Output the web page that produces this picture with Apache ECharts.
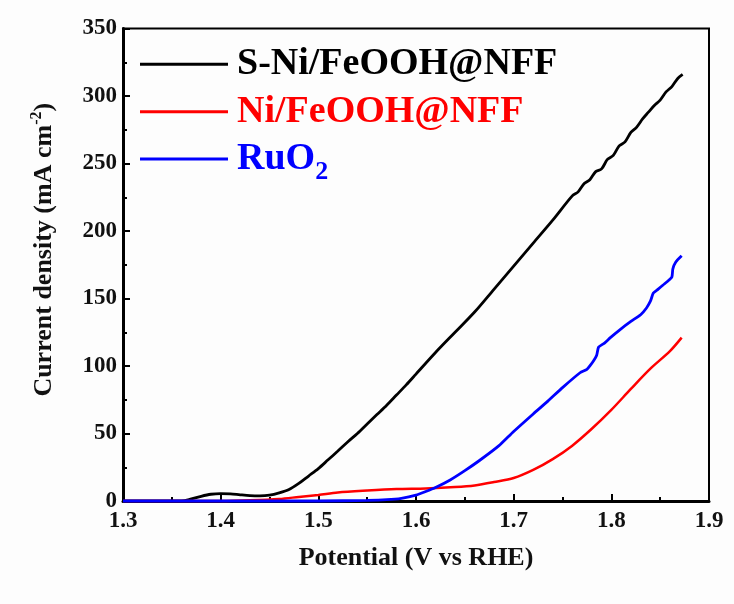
<!DOCTYPE html>
<html>
<head>
<meta charset="utf-8">
<script src="https://cdn.jsdelivr.net/npm/echarts@6/dist/echarts.min.js"></script>
<style>html,body{margin:0;padding:0;background:#fdfdfd;}#c{width:734px;height:604px;}</style>
</head>
<body>
<div id="c"></div>
<script>
// S-Ni/FeOOH@NFF
var vBlack = [1.30,1.34,1.36,1.37,1.38,1.39,1.40,1.41,1.42,1.43,1.44,1.45,1.46,1.47,1.48,1.49,1.50,1.51,1.52,1.53,1.54,1.55,1.56,1.57,1.58,1.59,1.60,1.62,1.64,1.66,1.68,1.70,1.72,1.74,1.760,1.766,1.772,1.778,1.784,1.790,1.796,1.802,1.808,1.814,1.820,1.826,1.832,1.838,1.844,1.850,1.856,1.862,1.868,1.873];
var jBlack = [0,0,0,1.5,3.5,5,5.5,5.3,4.6,4.0,3.8,4.3,6,8.5,13,18.5,24,30.5,37,43.7,50,57,64,71,78.5,86,94,110,125,140,157,174,191,208,226,229,235,238,244,246,253,256,263,266,273,277,283,288,293,297,303,307,313,316];
// Ni/FeOOH@NFF
var vRed = [1.30,1.40,1.43,1.46,1.48,1.50,1.52,1.55,1.58,1.61,1.64,1.66,1.68,1.70,1.72,1.74,1.76,1.78,1.80,1.82,1.84,1.86,1.872];
var jRed = [0,0,0.5,1.5,3,4.5,6.3,7.7,8.8,9.3,10.3,11.5,14,17,23,31,41,53.5,67.5,83,98,111,121];
// RuO2
var vBlue = [1.30,1.50,1.55,1.57,1.585,1.60,1.61,1.62,1.635,1.65,1.665,1.685,1.70,1.72,1.735,1.75,1.768,1.775,1.779,1.782,1.785,1.787,1.793,1.799,1.809,1.82,1.83,1.836,1.840,1.843,1.848,1.853,1.858,1.862,1.863,1.866,1.872];
var jBlue = [0,0,0.5,1,2,4.3,7,10,15.6,22.5,30,41,51.5,64.5,74,84,95,97.5,101,104,108,114,117,121,127,133,138,143,148,154,157,160,163,166,172,177,181.6];

var names = ['S-Ni/FeOOH@NFF','Ni/FeOOH@NFF','RuO2'];
var colors = ['#000000','#ff0000','#0000ff'];

function pairs(v, j){ return v.map(function(x,i){ return [x, j[i]]; }); }

var font = 'Liberation Serif';
var subStyle = {fontFamily:font, fontWeight:'bold', fontSize:26, lineHeight:6, padding:[26,0,0,0]};
function sub(color){ return Object.assign({color: color}, subStyle); }
var chart = echarts.init(document.getElementById('c'), null, {renderer:'canvas'});
chart.setOption({
  backgroundColor: '#fdfdfd',
  animation: false,
  grid: {left:123, right:25, top:28.5, bottom:103, show:true, borderColor:'#000', borderWidth:2, backgroundColor:'transparent', containLabel:false, outerBoundsMode:'none'},
  legend: {
    orient:'vertical', left:140, top:38.3, padding:0, itemGap:-4.6, itemWidth:88, itemHeight:3, icon:'rect',
    data: names,
    formatter: function(n){
      if (n === names[0]) return '{k|' + n + '}{hs| }';
      if (n === names[1]) return '{r|' + n + '}{hs| }';
      return '{b|RuO}{bs|2}';
    },
    textStyle: {
      fontFamily:font, fontWeight:'bold', fontSize:38, padding:[0,0,0,4],
      rich: {
        k:{color:colors[0], fontFamily:font, fontWeight:'bold', fontSize:38, lineHeight:33.5},
        r:{color:colors[1], fontFamily:font, fontWeight:'bold', fontSize:38, lineHeight:33.5},
        b:{color:colors[2], fontFamily:font, fontWeight:'bold', fontSize:38, lineHeight:33.5},
        bs:sub(colors[2]),
        hs:sub('rgba(0,0,0,0)')
      }
    }
  },
  xAxis: {
    type:'value', min:1.3, max:1.9, interval:0.1,
    name:'Potential (V vs RHE)', nameLocation:'middle', nameGap:44,
    nameTextStyle:{fontFamily:font, fontWeight:'bold', fontSize:26, color:'#111'},
    axisLine:{show:true, onZero:false, lineStyle:{color:'#000', width:3}},
    axisTick:{show:true, inside:true, length:7, lineStyle:{color:'#000', width:2}},
    minorTick:{show:true, splitNumber:2, length:4, lineStyle:{color:'#000', width:2}},
    axisLabel:{fontFamily:font, fontWeight:'bold', fontSize:23, color:'#111', margin:9,
      formatter:function(v){ return v.toFixed(1); }},
    splitLine:{show:false}
  },
  yAxis: {
    type:'value', min:0, max:350, interval:50,
    name:'{t|Current density (mA cm}{sup|-2}{t|)}', nameLocation:'middle', nameGap:64,
    nameTextStyle:{fontFamily:font, fontWeight:'bold', fontSize:26, color:'#111', padding:[0,0,0,30],
      rich:{
        t:{fontFamily:font, fontWeight:'bold', fontSize:26, color:'#111', lineHeight:30},
        sup:{fontFamily:font, fontWeight:'bold', fontSize:16, color:'#111', lineHeight:30, verticalAlign:'top'}
      }},
    axisLine:{show:true, lineStyle:{color:'#000', width:3}},
    axisTick:{show:true, inside:true, length:7, lineStyle:{color:'#000', width:2}},
    minorTick:{show:true, splitNumber:2, length:4, lineStyle:{color:'#000', width:2}},
    axisLabel:{fontFamily:font, fontWeight:'bold', fontSize:23, color:'#111', margin:6},
    splitLine:{show:false}
  },
  series: [
    {name:names[0], type:'line', data:pairs(vBlack,jBlack), showSymbol:false, symbol:'none', clip:false, smooth:0.3,
      lineStyle:{color:colors[0], width:2.8}, itemStyle:{color:colors[0]}, z:3},
    {name:names[1], type:'line', data:pairs(vRed,jRed), showSymbol:false, symbol:'none', clip:false, smooth:0.3,
      lineStyle:{color:colors[1], width:2.5}, itemStyle:{color:colors[1]}, z:4},
    {name:names[2], type:'line', data:pairs(vBlue,jBlue), showSymbol:false, symbol:'none', clip:false, smooth:0.2,
      lineStyle:{color:colors[2], width:2.8}, itemStyle:{color:colors[2]}, z:5}
  ]
});
</script>
</body>
</html>
